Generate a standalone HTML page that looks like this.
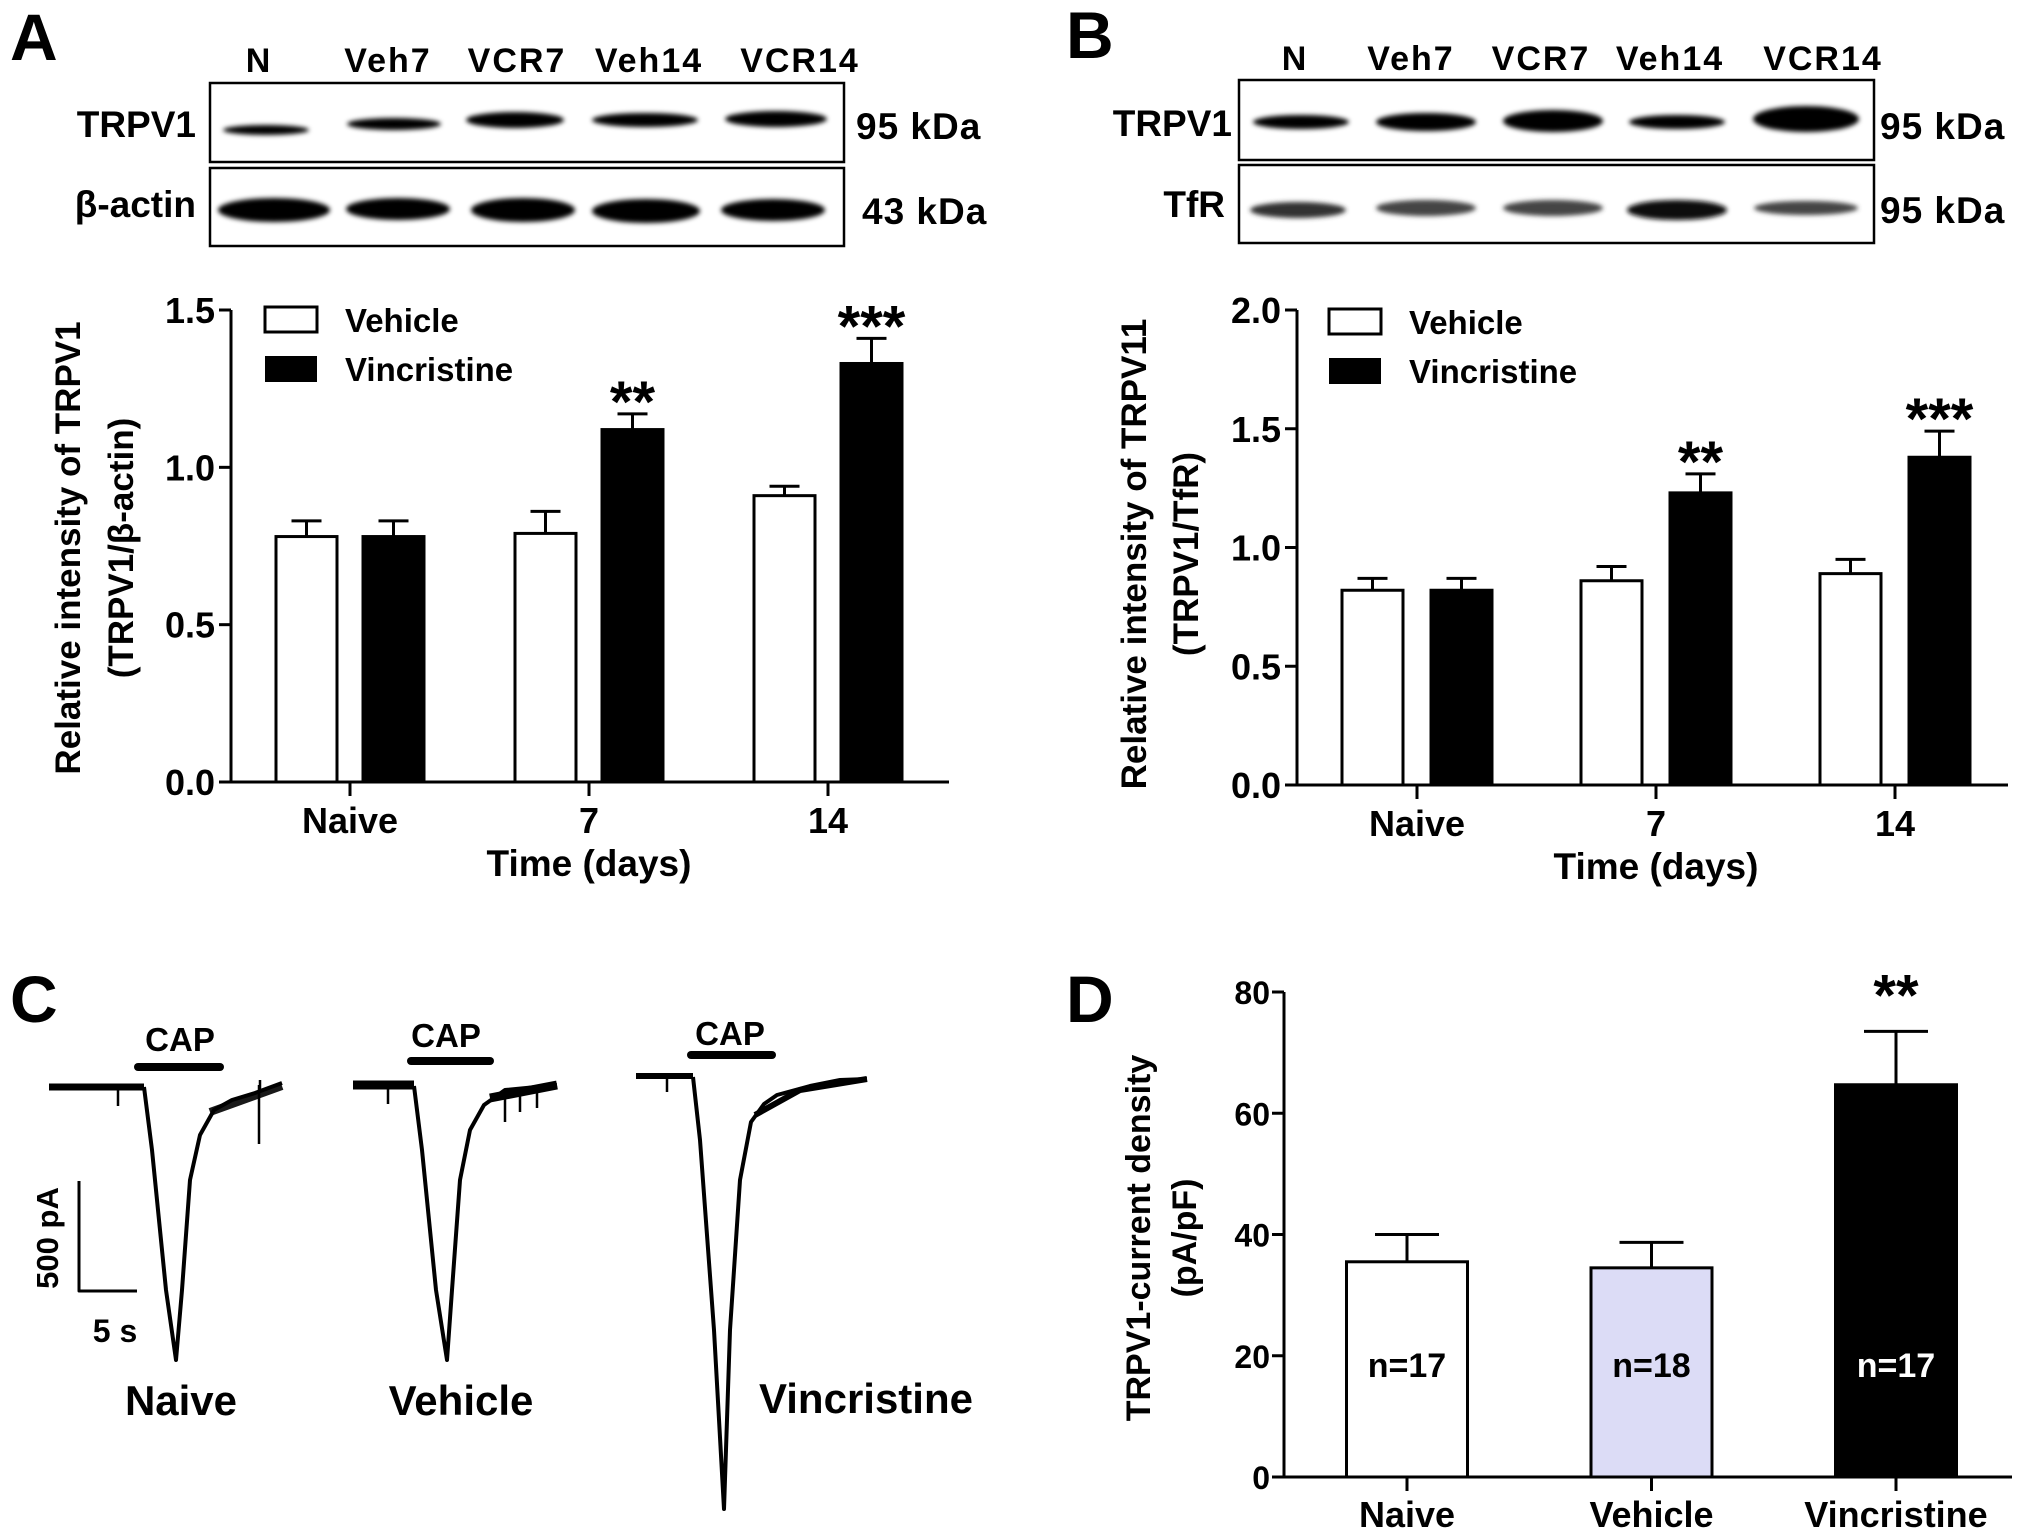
<!DOCTYPE html>
<html><head><meta charset="utf-8">
<style>
html,body{margin:0;padding:0;background:#fff;}
svg{display:block;font-family:"Liberation Sans",Arial,sans-serif;font-weight:bold;}
</style></head>
<body>
<svg id="fig" width="2031" height="1539" viewBox="0 0 2031 1539" xmlns="http://www.w3.org/2000/svg">
<defs>
<filter id="blur" x="-20%" y="-100%" width="140%" height="300%"><feGaussianBlur stdDeviation="2.5"/></filter>
</defs>
<text x="10" y="60" font-size="66">A</text>
<text x="1066" y="58" font-size="66">B</text>
<text x="10" y="1022" font-size="66">C</text>
<text x="1066" y="1022" font-size="66">D</text>

<g id="blotA">
<g font-size="34" text-anchor="middle" letter-spacing="2">
<text x="259" y="72">N</text>
<text x="388" y="72">Veh7</text>
<text x="517" y="72">VCR7</text>
<text x="649" y="72">Veh14</text>
<text x="800" y="72">VCR14</text>
</g>
<rect x="210" y="83" width="634" height="79" fill="#fff" stroke="#000" stroke-width="2.5"/>
<rect x="210" y="168" width="634" height="78" fill="#fff" stroke="#000" stroke-width="2.5"/>
<g filter="url(#blur)" fill="#000">
<ellipse cx="266" cy="130" rx="43" ry="5"/>
<ellipse cx="394" cy="124" rx="47" ry="6"/>
<ellipse cx="515" cy="120" rx="49" ry="8"/>
<ellipse cx="645" cy="120" rx="53" ry="7"/>
<ellipse cx="776" cy="119" rx="51" ry="8"/>
<ellipse cx="274" cy="210" rx="56" ry="12"/>
<ellipse cx="398" cy="209" rx="52" ry="11"/>
<ellipse cx="523" cy="210" rx="52" ry="12"/>
<ellipse cx="646" cy="211" rx="54" ry="12"/>
<ellipse cx="773" cy="210" rx="52" ry="11"/>
</g>
<text x="196" y="137" font-size="37" text-anchor="end">TRPV1</text>
<text x="196" y="217" font-size="37" text-anchor="end">β-actin</text>
<text x="856" y="139" font-size="37" letter-spacing="1">95 kDa</text>
<text x="862" y="224" font-size="37" letter-spacing="1">43 kDa</text>
</g>

<g id="blotB">
<g font-size="34" text-anchor="middle" letter-spacing="2">
<text x="1295" y="70">N</text>
<text x="1411" y="70">Veh7</text>
<text x="1541" y="70">VCR7</text>
<text x="1670" y="70">Veh14</text>
<text x="1823" y="70">VCR14</text>
</g>
<rect x="1239" y="80" width="635" height="80" fill="#fff" stroke="#000" stroke-width="2.5"/>
<rect x="1239" y="165" width="635" height="78" fill="#fff" stroke="#000" stroke-width="2.5"/>
<g filter="url(#blur)">
<ellipse cx="1301" cy="122" rx="48" ry="7" fill="#000"/>
<ellipse cx="1426" cy="122" rx="50" ry="9" fill="#000"/>
<ellipse cx="1553" cy="121" rx="50" ry="11" fill="#000"/>
<ellipse cx="1677" cy="122" rx="48" ry="7" fill="#000"/>
<ellipse cx="1806" cy="119" rx="53" ry="13" fill="#000"/>
<ellipse cx="1298" cy="210" rx="48" ry="8" fill="#333"/>
<ellipse cx="1426" cy="208" rx="50" ry="8" fill="#444"/>
<ellipse cx="1553" cy="208" rx="50" ry="8" fill="#444"/>
<ellipse cx="1677" cy="210" rx="50" ry="10" fill="#111"/>
<ellipse cx="1806" cy="208" rx="52" ry="7" fill="#444"/>
</g>
<text x="1232" y="136" font-size="37" text-anchor="end">TRPV1</text>
<text x="1225" y="217" font-size="37" text-anchor="end">TfR</text>
<text x="1880" y="139" font-size="37" letter-spacing="1">95 kDa</text>
<text x="1880" y="223" font-size="37" letter-spacing="1">95 kDa</text>
</g>

<g id="chartA"></g>
<g id="chartB"></g>
<g id="chartD"></g>

<g id="panelC" fill="none" stroke="#000" stroke-linejoin="round">
<g>
<path d="M49,1087 L144,1087" stroke-width="7"/>
<path d="M144,1087 L152,1150 L166,1290 L176,1360 L182,1290 L190,1180 L200,1135 L214,1110 L232,1100 L255,1093 L282,1083" stroke-width="4"/>
<path d="M118,1087 L118,1106 M259,1085 L259,1144 M260,1080 L260,1092" stroke-width="2.5"/>
<path d="M210,1112 L282,1086" stroke-width="8" opacity="0.9"/>
<text x="180" y="1051" font-size="33" fill="#000" stroke="none" text-anchor="middle">CAP</text>
<line x1="138" y1="1067" x2="220" y2="1067" stroke-width="8" stroke-linecap="round"/>
</g>
<g>
<path d="M353,1085 L414,1085" stroke-width="9"/>
<path d="M414,1086 L422,1150 L436,1290 L447,1360 L452,1290 L460,1180 L470,1130 L484,1105 L505,1090 L557,1085" stroke-width="4"/>
<path d="M490,1098 L557,1085" stroke-width="9"/>
<path d="M388,1087 L388,1104 M505,1090 L505,1122 M520,1090 L520,1112 M537,1088 L537,1108" stroke-width="2.5"/>
<text x="446" y="1047" font-size="33" fill="#000" stroke="none" text-anchor="middle">CAP</text>
<line x1="411" y1="1061" x2="490" y2="1061" stroke-width="8" stroke-linecap="round"/>
</g>
<g>
<path d="M636,1076 L693,1076" stroke-width="6"/>
<path d="M693,1077 L700,1140 L714,1330 L724,1509 L730,1330 L740,1180 L751,1122 L764,1104 L777,1095 L810,1086 L840,1080 L867,1079" stroke-width="4"/>
<path d="M755,1115 L800,1090 L867,1079" stroke-width="6"/>
<path d="M667,1076 L667,1092" stroke-width="2.5"/>
<text x="730" y="1045" font-size="33" fill="#000" stroke="none" text-anchor="middle">CAP</text>
<line x1="691" y1="1055" x2="772" y2="1055" stroke-width="8" stroke-linecap="round"/>
</g>
<path d="M79,1181 L79,1291 L137,1291" stroke-width="3"/>
<text transform="translate(58,1238) rotate(-90)" font-size="31" fill="#000" stroke="none" text-anchor="middle">500 pA</text>
<text x="115" y="1342" font-size="32" fill="#000" stroke="none" text-anchor="middle">5 s</text>
<g font-size="42" fill="#000" stroke="none" text-anchor="middle">
<text x="181" y="1415">Naive</text>
<text x="461" y="1415">Vehicle</text>
<text x="866" y="1413">Vincristine</text>
</g>
</g>
</svg>
<script>
// ---- Data: Panel A ----
const catsA = ["Naive", "7", "14"];
const vehA = [0.78, 0.79, 0.91];
const vehErrA = [0.05, 0.07, 0.03];
const vcrA = [0.78, 1.12, 1.33];
const vcrErrA = [0.05, 0.05, 0.08];
const sigA = ["", "**", "***"];
const ticksA = ["0.0", "0.5", "1.0", "1.5"];
// ---- Data: Panel B ----
const catsB = ["Naive", "7", "14"];
const vehB = [0.82, 0.86, 0.89];
const vehErrB = [0.05, 0.06, 0.06];
const vcrB = [0.82, 1.23, 1.38];
const vcrErrB = [0.05, 0.08, 0.11];
const sigB = ["", "**", "***"];
const ticksB = ["0.0", "0.5", "1.0", "1.5", "2.0"];
// ---- Data: Panel D ----
const catsD = ["Naive", "Vehicle", "Vincristine"];
const valD = [35.5, 34.5, 64.7];
const errD = [4.5, 4.2, 8.8];
const nD = ["n=17", "n=18", "n=17"];
const sigD = ["", "", "**"];
const ticksD = ["0", "20", "40", "60", "80"];

const NS = "http://www.w3.org/2000/svg";
function mk(parent, tag, attrs, txt) {
  const e = document.createElementNS(NS, tag);
  for (const k in attrs) e.setAttribute(k, attrs[k]);
  if (txt !== undefined) e.textContent = txt;
  parent.appendChild(e);
  return e;
}

function groupedChart(g, cfg, cats, veh, vehErr, vcr, vcrErr, sig, ticks) {
  const y = v => cfg.y0 - (v / cfg.ymax) * (cfg.y0 - cfg.ytop);
  const cx = i => cfg.c0 + i * cfg.step;
  const ax = mk(g, "line", {x1: cfg.ax, y1: cfg.ytop, x2: cfg.ax, y2: cfg.y0, stroke: "#000", "stroke-width": 3});
  
  
  const xa = mk(g, "line", {x1: cfg.ax - 12, y1: cfg.y0, x2: cfg.xend, y2: cfg.y0, stroke: "#000", "stroke-width": 3});
  
  
  ticks.forEach(t => {
    const v = parseFloat(t);
    const tk = mk(g, "line", {x1: cfg.ax - 12, y1: y(v), x2: cfg.ax, y2: y(v), stroke: "#000", "stroke-width": 3});
    
    
    const tl = mk(g, "text", {x: cfg.ax - 16, y: y(v) + 13, "font-size": 36, "text-anchor": "end"}, t);
    
    
  });
  cats.forEach((c, i) => {
    const tk = mk(g, "line", {x1: cx(i), y1: cfg.y0, x2: cx(i), y2: cfg.y0 + 14, stroke: "#000", "stroke-width": 3});
    
    
    const tl = mk(g, "text", {x: cx(i), y: cfg.y0 + 51, "font-size": 36, "text-anchor": "middle"}, c);
    
    
    const series = [[veh, vehErr, "#fff", -1], [vcr, vcrErr, "#000", 1]];
    series.forEach(([vals, errs, fill, side]) => {
      const left = side < 0 ? cx(i) - cfg.gap / 2 - cfg.bw : cx(i) + cfg.gap / 2;
      const mid = left + cfg.bw / 2;
      const top = y(vals[i]);
      const et = y(vals[i] + errs[i]);
      const el = mk(g, "line", {x1: mid, y1: top, x2: mid, y2: et, stroke: "#000", "stroke-width": 3});
      
      
      const cap = mk(g, "line", {x1: mid - 15, y1: et, x2: mid + 15, y2: et, stroke: "#000", "stroke-width": 3});
      
      
      const r = mk(g, "rect", {x: left, y: top, width: cfg.bw, height: cfg.y0 - top, fill: fill, stroke: "#000", "stroke-width": 3});
      
      
      if (side > 0 && sig[i]) {
        const s = mk(g, "text", {x: mid, y: et + 8, "font-size": 58, "text-anchor": "middle"}, sig[i]);
        
        
      }
    });
  });
  const lw = mk(g, "rect", {x: cfg.lx, y: cfg.ly, width: 52, height: 25, fill: "#fff", stroke: "#000", "stroke-width": 3});
  
  
  const lb = mk(g, "rect", {x: cfg.lx, y: cfg.ly + 49, width: 52, height: 26, fill: "#000"});
  
  
  const t1 = mk(g, "text", {x: cfg.lx + 80, y: cfg.ly + 25, "font-size": 33}, "Vehicle");
  
  
  const t2 = mk(g, "text", {x: cfg.lx + 80, y: cfg.ly + 74, "font-size": 33}, "Vincristine");
  
  
  const yt1 = mk(g, "text", {transform: `translate(${cfg.t1x},${cfg.tcy}) rotate(-90)`, "font-size": 35, "text-anchor": "middle"}, cfg.title1);
  
  
  const yt2 = mk(g, "text", {transform: `translate(${cfg.t2x},${cfg.tcy}) rotate(-90)`, "font-size": 35, "text-anchor": "middle"}, cfg.title2);
  
  
  const xt = mk(g, "text", {x: cx(1), y: cfg.y0 + 94, "font-size": 37, "text-anchor": "middle"}, "Time (days)");
  
  
}

groupedChart(document.getElementById("chartA"),
  {ax: 231, y0: 782, ytop: 310, ymax: 1.5, xend: 949, c0: 350, step: 239, bw: 61, gap: 26,
   lx: 265, ly: 307, t1x: 80, t2x: 133, tcy: 548,
   title1: "Relative intensity of TRPV1", title2: "(TRPV1/β-actin)"},
  catsA, vehA, vehErrA, vcrA, vcrErrA, sigA, ticksA);

groupedChart(document.getElementById("chartB"),
  {ax: 1297, y0: 785, ytop: 310, ymax: 2.0, xend: 2008, c0: 1417, step: 239, bw: 61, gap: 28,
   lx: 1329, ly: 309, t1x: 1146, t2x: 1198, tcy: 554,
   title1: "Relative intensity of TRPV11", title2: "(TRPV1/TfR)"},
  catsB, vehB, vehErrB, vcrB, vcrErrB, sigB, ticksB);

(function () {
  const g = document.getElementById("chartD");
  const y0 = 1477, ytop = 992, ymax = 80, ax = 1284;
  const y = v => y0 - (v / ymax) * (y0 - ytop);
  const cx = i => 1407 + i * 244.5;
  const bw = 121;
  const fills = ["#fff", "#dcdcf6", "#000"];
  const nFill = ["#000", "#000", "#fff"];
  const a1 = mk(g, "line", {x1: ax, y1: ytop, x2: ax, y2: y0, stroke: "#000", "stroke-width": 3});
  
  
  const a2 = mk(g, "line", {x1: ax - 12, y1: y0, x2: 2012, y2: y0, stroke: "#000", "stroke-width": 3});
  
  
  ticksD.forEach(t => {
    const v = parseFloat(t);
    const tk = mk(g, "line", {x1: ax - 12, y1: y(v), x2: ax, y2: y(v), stroke: "#000", "stroke-width": 3});
    
    
    const tl = mk(g, "text", {x: ax - 14, y: y(v) + 12, "font-size": 32, "text-anchor": "end"}, t);
    
    
  });
  catsD.forEach((c, i) => {
    const tk = mk(g, "line", {x1: cx(i), y1: y0, x2: cx(i), y2: y0 + 14, stroke: "#000", "stroke-width": 3});
    
    
    const tl = mk(g, "text", {x: cx(i), y: 1527, "font-size": 36, "text-anchor": "middle"}, c);
    
    
    const top = y(valD[i]), et = y(valD[i] + errD[i]);
    const el = mk(g, "line", {x1: cx(i), y1: top, x2: cx(i), y2: et, stroke: "#000", "stroke-width": 3});
    
    
    const cap = mk(g, "line", {x1: cx(i) - 32, y1: et, x2: cx(i) + 32, y2: et, stroke: "#000", "stroke-width": 3});
    
    
    const r = mk(g, "rect", {x: cx(i) - bw / 2, y: top, width: bw, height: y0 - top, fill: fills[i], stroke: "#000", "stroke-width": 3});
    
    
    const nt = mk(g, "text", {x: cx(i), y: 1377, "font-size": 34, "text-anchor": "middle", fill: nFill[i]}, nD[i]);
    
    
    if (sigD[i]) {
      const s = mk(g, "text", {x: cx(i), y: et - 16, "font-size": 58, "text-anchor": "middle"}, sigD[i]);
      
      
    }
  });
  const t1 = mk(g, "text", {transform: "translate(1150,1238) rotate(-90)", "font-size": 34, "text-anchor": "middle"}, "TRPV1-current density");
  
  
  const t2 = mk(g, "text", {transform: "translate(1196,1238) rotate(-90)", "font-size": 34, "text-anchor": "middle"}, "(pA/pF)");
  
  
})();
</script>
</body></html>
